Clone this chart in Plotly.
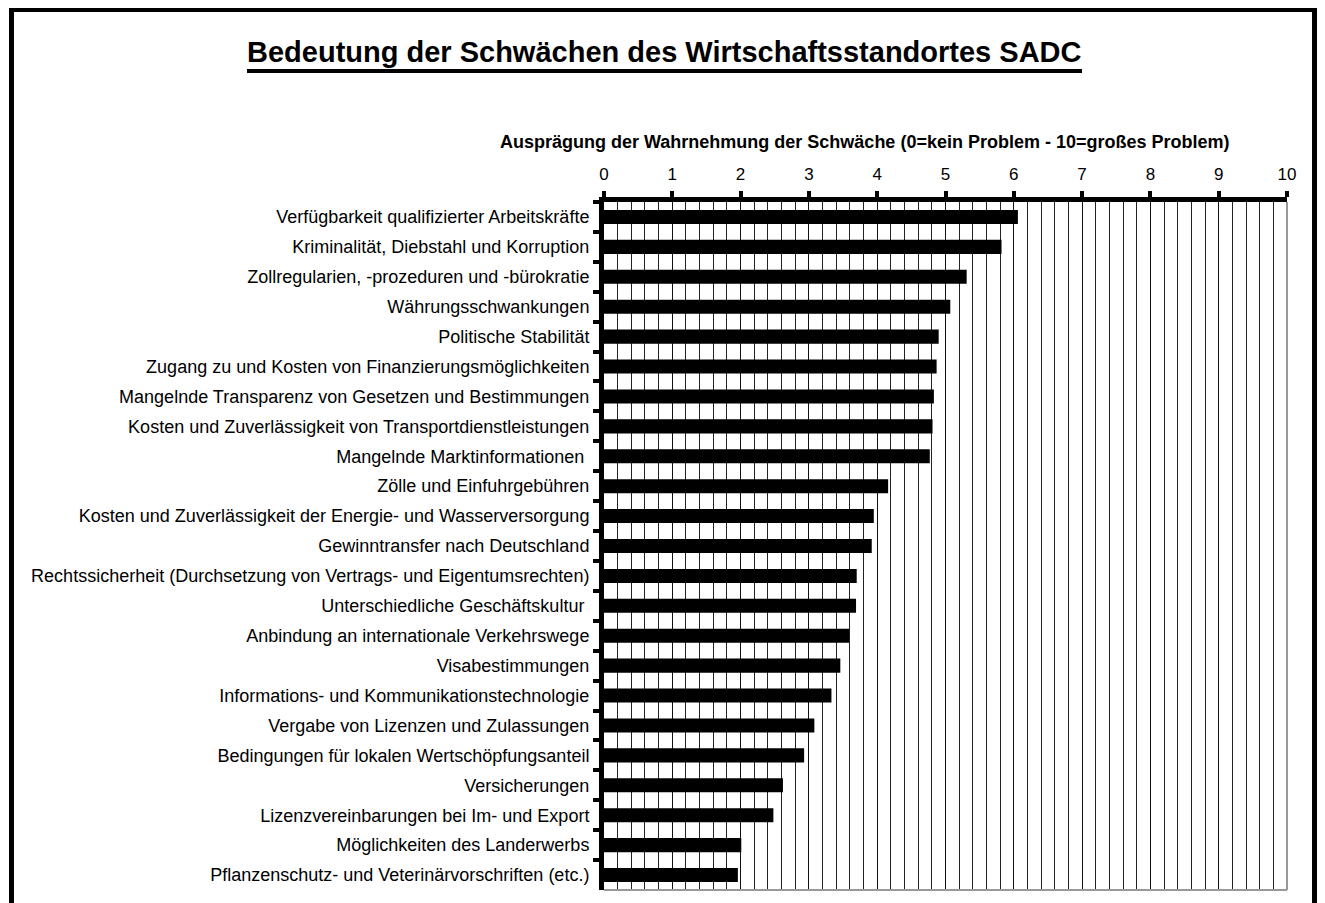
import plotly.graph_objects as go

categories = [
    "Verfügbarkeit qualifizierter Arbeitskräfte",
    "Kriminalität, Diebstahl und Korruption",
    "Zollregularien, -prozeduren und -bürokratie",
    "Währungsschwankungen",
    "Politische Stabilität",
    "Zugang zu und Kosten von Finanzierungsmöglichkeiten",
    "Mangelnde Transparenz von Gesetzen und Bestimmungen",
    "Kosten und Zuverlässigkeit von Transportdienstleistungen",
    "Mangelnde Marktinformationen\u00a0",
    "Zölle und Einfuhrgebühren",
    "Kosten und Zuverlässigkeit der Energie- und Wasserversorgung",
    "Gewinntransfer nach Deutschland",
    "Rechtssicherheit (Durchsetzung von Vertrags- und Eigentumsrechten)",
    "Unterschiedliche Geschäftskultur\u00a0",
    "Anbindung an internationale Verkehrswege",
    "Visabestimmungen",
    "Informations- und Kommunikationstechnologie",
    "Vergabe von Lizenzen und Zulassungen",
    "Bedingungen für lokalen Wertschöpfungsanteil",
    "Versicherungen",
    "Lizenzvereinbarungen bei Im- und Export",
    "Möglichkeiten des Landerwerbs",
    "Pflanzenschutz- und Veterinärvorschriften (etc.)",
]
values = [6.06, 5.82, 5.31, 5.07, 4.90, 4.87, 4.83, 4.81, 4.77, 4.16, 3.95, 3.92,
          3.70, 3.69, 3.59, 3.46, 3.33, 3.08, 2.93, 2.62, 2.48, 2.01, 1.96]
x_ticks = list(range(0, 11))

title_text = "Bedeutung der Schwächen des Wirtschaftsstandortes SADC"
axis_title = "Ausprägung der Wahrnehmung der Schwäche (0=kein Problem - 10=großes Problem)"

OFF = 8  # page body margin
W, H = 1325 - OFF, 903 - OFF
L, R, T, B = 604 - OFF, 1287 - OFF, 202 - OFF, 890 - OFF   # plot area in figure pixels


def px(x):
    return (x - OFF - L) / (R - L)


def py(y):
    return (B - (y - OFF)) / (B - T)


FONT = "Liberation Sans, Arial, sans-serif"

fig = go.Figure(
    go.Bar(
        x=values,
        y=categories,
        orientation="h",
        marker=dict(color="#000000", line=dict(width=0)),
        width=0.47,
        hoverinfo="x+y",
    )
)

fig.update_layout(
    width=W,
    height=H,
    margin=dict(l=L, r=W - R, t=T, b=H - B, pad=0, autoexpand=False),
    paper_bgcolor="white",
    plot_bgcolor="white",
    showlegend=False,
    font=dict(family=FONT, color="black", size=15),
    xaxis=dict(
        side="top",
        range=[0, 10],
        tickvals=x_ticks,
        ticktext=[str(v) for v in x_ticks],
        showline=True,
        linecolor="black",
        linewidth=5,
        ticks="outside",
        ticklen=6,
        tickwidth=4,
        tickcolor="black",
        showgrid=True,
        gridcolor="#111111",
        gridwidth=1,
        zeroline=False,
        tickfont=dict(size=17, family=FONT),
        ticklabelstandoff=4,
        minor=dict(dtick=0.2, showgrid=True, gridcolor="#222222", gridwidth=1, ticks=""),
        automargin=False,
        fixedrange=True,
    ),
    yaxis=dict(
        autorange="reversed",
        showline=True,
        linecolor="black",
        linewidth=5,
        ticks="outside",
        tickson="boundaries",
        ticklen=6,
        tickwidth=4,
        tickcolor="black",
        showgrid=False,
        tickfont=dict(size=18, family=FONT),
        ticklabelstandoff=6,
        automargin=False,
        fixedrange=True,
    ),
    bargap=0.5,
    shapes=[
        # outer frame
        dict(type="rect", xref="paper", yref="paper",
             x0=px(11.5), x1=px(1314.5), y0=py(960), y1=py(9.5),
             line=dict(color="black", width=5), fillcolor="rgba(0,0,0,0)", layer="below"),
        # gray right/bottom borders of the plot area
        dict(type="line", xref="paper", yref="paper", x0=0, x1=1, y0=0, y1=0,
             line=dict(color="#999999", width=2), layer="above"),
        dict(type="line", xref="paper", yref="paper", x0=1, x1=1, y0=0, y1=1,
             line=dict(color="#999999", width=2), layer="below"),
        # title underline
        dict(type="line", xref="paper", yref="paper", x0=px(247), x1=px(1082),
             y0=py(71), y1=py(71), line=dict(color="black", width=4), layer="above"),
    ],
    annotations=[
        dict(text="<b>" + title_text + "</b>", xref="paper", yref="paper",
             x=px(664), y=py(52), xanchor="center", yanchor="middle",
             showarrow=False, font=dict(size=29, family=FONT, color="black")),
        dict(text="<b>" + axis_title + "</b>", xref="paper", yref="paper",
             x=px(865), y=py(142), xanchor="center", yanchor="middle",
             showarrow=False, font=dict(size=18, family=FONT, color="black")),
    ],
)

fig.write_html("out.html")
